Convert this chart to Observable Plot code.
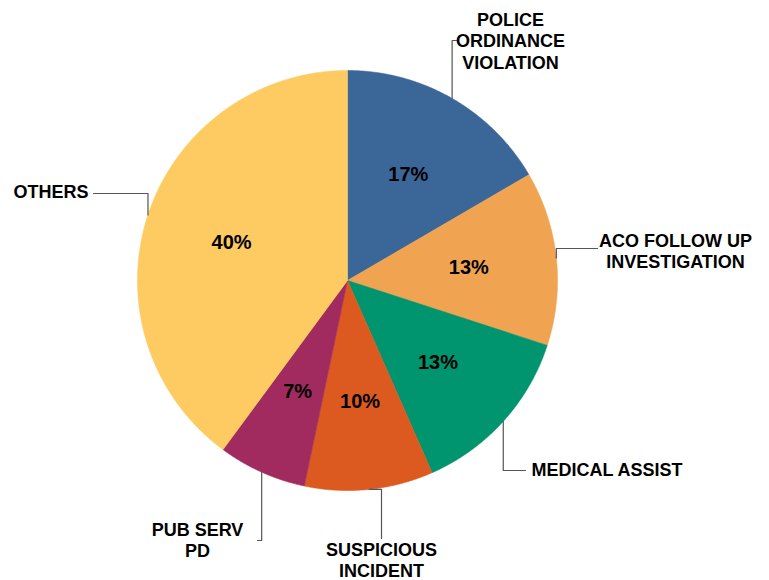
<!DOCTYPE html>
<html>
<head>
<meta charset="utf-8">
<script src="https://cdn.jsdelivr.net/npm/d3@7"></script>
<script src="https://cdn.jsdelivr.net/npm/@observablehq/plot@0.6"></script>
<style>
  html, body { margin: 0; padding: 0; background: #fff; }
</style>
</head>
<body>
<div id="chart"></div>
<script>
// ---- data ----
const categories = ["POLICE\nORDINANCE\nVIOLATION", "ACO FOLLOW UP\nINVESTIGATION", "MEDICAL ASSIST", "SUSPICIOUS\nINCIDENT", "PUB SERV\nPD", "OTHERS"];
const values = [16.6, 13.4, 13.4, 9.9, 6.8, 39.9];
const colors = ["#3b6698", "#f0a451", "#00946f", "#dc5a20", "#a12b5f", "#fdcb62"];

// ---- layout ----
const W = 769, H = 580;
const cx = 347, cy = 280, R = 210, rLabel = 122;
// label anchor / leader layout per slice
const layout = [
  {bend: [[null, 40], [456, 40]], tx: 510, ty: 40, anchor: "middle"},
  {bend: [[null, 248], [597, 248]], tx: 675, ty: 250, anchor: "middle"},
  {bend: [[null, 470], [525, 470]], tx: 531, ty: 470, anchor: "start"},
  {bend: [[381, null], [381, 538]], tx: 381, ty: 559, anchor: "middle"},
  {bend: [[null, 540], [257, 540]], tx: 197, ty: 539, anchor: "middle"},
  {bend: [[null, 193], [93, 193]], tx: 88, ty: 192, anchor: "end"}
];

const total = d3.sum(values);
const arcs = d3.pie().sort(null).value(d => d)(values);
const pt = (a, r) => [cx + r * Math.sin(a), cy - r * Math.cos(a)];

// slice polygons
const slicePts = [];
arcs.forEach((a, i) => {
  const n = Math.max(2, Math.ceil((a.endAngle - a.startAngle) / 0.005));
  slicePts.push({cat: categories[i], x: cx, y: cy});
  for (let k = 0; k <= n; k++) {
    const t = a.startAngle + (a.endAngle - a.startAngle) * k / n;
    const [x, y] = pt(t, R);
    slicePts.push({cat: categories[i], x, y});
  }
  slicePts.push({cat: categories[i], x: cx, y: cy});
});

// percent labels
const pctLabels = arcs.map((a, i) => {
  const m = (a.startAngle + a.endAngle) / 2;
  const [x, y] = pt(m, rLabel);
  return {x, y, text: Math.round(values[i] / total * 100) + "%"};
});

// leader lines
const leaderPts = [];
arcs.forEach((a, i) => {
  const m = (a.startAngle + a.endAngle) / 2;
  let [x0, y0] = pt(m, R);
  const L = layout[i];
  leaderPts.push({id: i, x: x0, y: y0});
  let px = x0, py = y0;
  L.bend.forEach(([bx, by]) => {
    const x = bx == null ? px : bx;
    const y = by == null ? py : by;
    leaderPts.push({id: i, x, y});
    px = x; py = y;
  });
});

const catLabels = categories.map((c, i) => ({x: layout[i].tx, y: layout[i].ty, text: c, anchor: layout[i].anchor}));

const font = "'Liberation Sans', Arial, Helvetica, sans-serif";

const chart = Plot.plot({
  width: W,
  height: H,
  margin: 0,
  x: {type: "identity"},
  y: {type: "identity"},
  color: {domain: categories, range: colors},
  axis: null,
  style: {fontFamily: font, background: "#fff"},
  marks: [
    Plot.line(slicePts, {x: "x", y: "y", z: "cat", fill: "cat", stroke: "cat", strokeWidth: 0.6, curve: "linear"}),
    Plot.line(leaderPts, {x: "x", y: "y", z: "id", stroke: "#555", strokeWidth: 1.2}),
    Plot.text(pctLabels, {x: "x", y: "y", text: "text", fontSize: 20, fontWeight: "bold", fill: "#000", fontFamily: font}),
    Plot.text(catLabels.filter(d => d.anchor === "middle"), {x: "x", y: "y", text: "text", textAnchor: "middle", lineAnchor: "middle", lineHeight: 1.18, fontSize: 18, fontWeight: "bold", fill: "#000", fontFamily: font}),
    Plot.text(catLabels.filter(d => d.anchor === "start"), {x: "x", y: "y", text: "text", textAnchor: "start", lineAnchor: "middle", fontSize: 18, fontWeight: "bold", fill: "#000", fontFamily: font}),
    Plot.text(catLabels.filter(d => d.anchor === "end"), {x: "x", y: "y", text: "text", textAnchor: "end", lineAnchor: "middle", fontSize: 18, fontWeight: "bold", fill: "#000", fontFamily: font})
  ]
});
document.getElementById("chart").appendChild(chart);
</script>
</body>
</html>
